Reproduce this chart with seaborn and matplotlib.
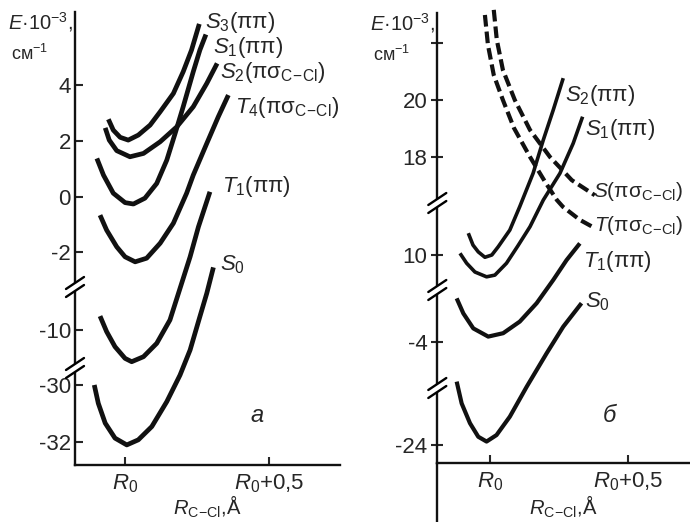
import numpy as np
import matplotlib
matplotlib.use("Agg")
import matplotlib.pyplot as plt
import matplotlib.transforms as mtransforms
import seaborn as sns

sns.set_style("white")
plt.rcParams['font.family'] = ['Liberation Sans', 'DejaVu Sans']
plt.rcParams['mathtext.fontset'] = 'custom'
plt.rcParams['mathtext.rm'] = 'Liberation Sans'
plt.rcParams['mathtext.it'] = 'Liberation Sans:italic'
plt.rcParams['mathtext.bf'] = 'Liberation Sans:bold'


# ---- Panel a: E*10^-3 (cm^-1) vs R(C-Cl) - R0 (Angstrom) ----
a_S3_x = [-0.058, -0.041, -0.017, 0.011, 0.046, 0.087, 0.122, 0.168, 0.202, 0.231, 0.258]
a_S3_E = [2.78, 2.39, 2.13, 2.03, 2.21, 2.57, 3.05, 3.71, 4.49, 5.27, 6.21]

a_S1_x = [-0.098, -0.075, -0.041, 0.0, 0.029, 0.069, 0.110, 0.145, 0.174, 0.202, 0.237, 0.260, 0.281]
a_S1_E = [1.37, 0.77, 0.12, -0.22, -0.27, -0.06, 0.47, 1.31, 2.27, 3.23, 4.49, 5.27, 5.83]

a_S2_x = [-0.069, -0.055, -0.029, 0.017, 0.064, 0.122, 0.180, 0.237, 0.284, 0.320]
a_S2_E = [2.47, 2.03, 1.65, 1.43, 1.55, 1.97, 2.51, 3.23, 4.07, 4.79]

a_T4_x = [-0.087, -0.064, -0.029, 0.0, 0.035, 0.075, 0.122, 0.168, 0.214, 0.237, 0.284, 0.324, 0.359]
a_T4_E = [-0.67, -1.21, -1.81, -2.17, -2.35, -2.22, -1.68, -0.96, 0.12, 0.77, 1.91, 2.87, 3.65]

a_T1_x = [-0.087, -0.064, -0.035, 0.0, 0.023, 0.064, 0.110, 0.156, 0.226, 0.255, 0.295]
a_T1_E = [-9.50, -10.06, -10.60, -11.02, -11.14, -10.96, -10.48, -9.64, -2.17, -1.09, 0.17]

a_S0_x = [-0.107, -0.093, -0.069, -0.035, 0.006, 0.046, 0.093, 0.145, 0.191, 0.226, 0.260, 0.284, 0.307]
a_S0_E = [-30.0, -30.65, -31.35, -31.88, -32.12, -31.94, -31.47, -30.59, -29.65, -10.72, -9.52, -8.68, -2.55]

a_ticks = [4, 2, 0, -2, -10, -30, -32]
a_ticklabels = ["4", "2", "0", "-2", "-10", "-30", "-32"]

# ---- Panel b ----
b_S_x = [0.014, 0.025, 0.047, 0.090, 0.145, 0.217, 0.296, 0.379]
b_S_E = [23.18, 22.12, 21.06, 20.0, 18.94, 17.99, 17.17, 16.64]

b_T_x = [-0.018, -0.007, 0.014, 0.047, 0.087, 0.145, 0.202, 0.242, 0.264, 0.325, 0.379]
b_T_E = [23.0, 21.94, 20.88, 20.0, 19.01, 17.99, 17.07, 16.47, 11.70, 11.24, 10.95]

b_S2_x = [-0.078, -0.061, -0.042, -0.018, 0.007, 0.030, 0.072, 0.108, 0.156, 0.193, 0.229, 0.265]
b_S2_E = [10.77, 10.35, 10.11, 9.92, 10.0, 10.29, 10.88, 11.71, 17.41, 18.59, 19.65, 20.77]

b_S1_x = [-0.108, -0.084, -0.054, -0.012, 0.018, 0.060, 0.101, 0.145, 0.193, 0.253, 0.301, 0.335]
b_S1_E = [10.06, 9.71, 9.40, 9.23, 9.29, 9.71, 10.32, 11.0, 16.47, 17.41, 18.47, 19.41]

b_T1_x = [-0.120, -0.096, -0.060, -0.006, 0.048, 0.108, 0.169, 0.229, 0.277, 0.325]
b_T1_E = [-2.47, -3.0, -3.53, -3.82, -3.70, -3.29, -2.64, 9.12, 9.82, 10.41]

b_S0_x = [-0.120, -0.102, -0.072, -0.042, -0.012, 0.024, 0.072, 0.133, 0.205, 0.265, 0.331]
b_S0_E = [-5.41, -22.53, -23.23, -23.71, -23.88, -23.65, -23.0, -5.59, -4.41, -3.47, -2.64]

b_ticks = [22, 20, 18, 10, -4, -24]
b_ticklabels = ["", "20", "18", "10", "-4", "-24"]

# broken axis: E value at each side of a break and the pixel row it sits on
a_knots_E = [-32.83, -29.435, -11.33, -8.49, -3.22, 6.65]
a_knots_px = [465, 369, 367, 288, 286, 11.7]
b_knots_E = [-24.65, -22.02, -5.60, -2.21, 8.80, 11.80, 16.40, 23.08]
b_knots_px = [463.3, 389, 387, 291, 289, 204, 202, 12.7]


def make_scale(e_knots, px_knots):
    e = np.array(e_knots, float)
    p = -np.array(px_knots, float)
    s0 = (p[1] - p[0]) / (e[1] - e[0])
    s1 = (p[-1] - p[-2]) / (e[-1] - e[-2])
    e = np.r_[e[0] - 1000, e, e[-1] + 1000]
    p = np.r_[p[0] - 1000 * s0, p, p[-1] + 1000 * s1]
    return (lambda v: np.interp(v, e, p)), (lambda v: np.interp(v, p, e))


def add_break(ax, e_lo, e_hi):
    x0 = ax.get_xlim()[0]
    px, py = ax.transData.transform((x0, (e_lo + e_hi) / 2))
    ident = mtransforms.IdentityTransform()
    ax.plot([px, px], [py - 4, py + 4], color="white", lw=4, transform=ident,
            clip_on=False, zorder=5, solid_capstyle="butt")
    for d in (-4, 4):
        ax.plot([px - 9, px + 9], [py + d - 6, py + d + 6], color="k", lw=1.7,
                transform=ident, clip_on=False, zorder=6)


def curve(ax, x, e, lw, dashed=False):
    sns.lineplot(x=x, y=e, ax=ax, color="#111111", lw=lw, sort=False, estimator=None,
                 solid_joinstyle="round", solid_capstyle="butt")
    line = ax.lines[-1]
    line.set_clip_on(False)
    if dashed:
        line.set_dashes([2.8, 1.2])


def label(ax, x, e, text, dx, dy, size=16):
    ax.annotate(text, xy=(x[-1], e[-1]), xytext=(dx, dy), textcoords="offset pixels",
                ha="left", va="center", fontsize=size)


fig = plt.figure(figsize=(6.9, 5.22), dpi=100)
ax_a = fig.add_axes([75 / 690, 57 / 522, 265 / 690, 453.3 / 522])
ax_b = fig.add_axes([437.3 / 690, 58.7 / 522, 252.7 / 690, 450.6 / 522])

# panel a curves
curve(ax_a, a_S3_x, a_S3_E, 3.4)
curve(ax_a, a_S1_x, a_S1_E, 3.4)
curve(ax_a, a_S2_x, a_S2_E, 3.4)
curve(ax_a, a_T4_x, a_T4_E, 3.4)
curve(ax_a, a_T1_x, a_T1_E, 3.4)
curve(ax_a, a_S0_x, a_S0_E, 3.4)

# panel b curves
curve(ax_b, b_S_x, b_S_E, 3.0, dashed=True)
curve(ax_b, b_T_x, b_T_E, 3.0, dashed=True)
curve(ax_b, b_S2_x, b_S2_E, 2.6)
curve(ax_b, b_S1_x, b_S1_E, 2.6)
curve(ax_b, b_T1_x, b_T1_E, 3.0)
curve(ax_b, b_S0_x, b_S0_E, 3.0)

for ax, kE, kpx, ticks, tlabels, xl, tickdir, ly in [
        (ax_a, a_knots_E, a_knots_px, a_ticks, a_ticklabels, (-0.174, 0.747), "in", -0.064),
        (ax_b, b_knots_E, b_knots_px, b_ticks, b_ticklabels, (-0.190, 0.723), "inout", -0.068)]:
    fwd, inv = make_scale(kE, kpx)
    ax.set_yscale("function", functions=(fwd, inv))
    ax.set_ylim(kE[0], kE[-1])
    ax.set_xlim(*xl)
    ax.set_yticks(ticks)
    ax.set_yticklabels(tlabels)
    ax.set_xticks([0, 0.5])
    ax.set_xticklabels([r"$R_0$", r"$R_0$+0,5"])
    ax.minorticks_off()
    ax.set_xlabel(r"$R_{\mathrm{C\!-\!Cl}}$,Å", fontsize=14.5)
    ax.xaxis.set_label_coords(0.5, ly)
    ax.set_ylabel("")
    ax.spines["top"].set_visible(False)
    ax.spines["right"].set_visible(False)
    for s in ("left", "bottom"):
        ax.spines[s].set_linewidth(1.7)
        ax.spines[s].set_color("#111111")
    ax.tick_params(axis="y", direction=tickdir, length=8 if tickdir == "inout" else 6,
                   width=1.5, pad=3, labelsize=16, left=True)
    ax.tick_params(axis="x", direction="in", length=6, width=1.5, pad=5,
                   labelsize=16, bottom=True)
    ax.set_facecolor("none")
    for i in range(1, len(kE) - 1, 2):
        add_break(ax, kE[i], kE[i + 1])
    ax.annotate(r"$E$·10$^{-3}$,", xy=(0, 1), xycoords="axes fraction", xytext=(-2, -10),
                textcoords="offset pixels", ha="right", va="center", fontsize=14.5)
    ax.annotate("см$^{-1}$", xy=(0, 1), xycoords="axes fraction", xytext=(-64, -42),
                textcoords="offset pixels", ha="left", va="center", fontsize=13)

# extension of the b axis line below the frame
ax_b.plot([0, 0], [0, -0.14], transform=ax_b.transAxes, color="#111111", lw=1.7, clip_on=False)

label(ax_a, a_S3_x, a_S3_E, r"$S_3$(ππ)", 6, 1)
label(ax_a, a_S1_x, a_S1_E, r"$S_1$(ππ)", 7, -13)
label(ax_a, a_S2_x, a_S2_E, r"$S_2$(πσ$_{\mathrm{C\!-\!Cl}}$)", 3, -9)
label(ax_a, a_T4_x, a_T4_E, r"$T_4$(πσ$_{\mathrm{C\!-\!Cl}}$)", 7, -12)
label(ax_a, a_T1_x, a_T1_E, r"$T_1$(ππ)", 12, 5)
label(ax_a, a_S0_x, a_S0_E, r"$S_0$", 7, 3)

label(ax_b, b_S2_x, b_S2_E, r"$S_2$(ππ)", 2, -17)
label(ax_b, b_S1_x, b_S1_E, r"$S_1$(ππ)", 2, -13)
label(ax_b, b_S_x, b_S_E, r"$S$(πσ$_{\mathrm{C\!-\!Cl}}$)", -2, 4, size=15)
label(ax_b, b_T_x, b_T_E, r"$T$(πσ$_{\mathrm{C\!-\!Cl}}$)", -1, 3, size=15)
label(ax_b, b_T1_x, b_T1_E, r"$T_1$(ππ)", 3, -18)
label(ax_b, b_S0_x, b_S0_E, r"$S_0$", 3, 1)

ax_a.text(0.687, 0.110, "а", transform=ax_a.transAxes, fontsize=17, style="italic",
          ha="center", va="center")
ax_b.text(0.683, 0.107, "б", transform=ax_b.transAxes, fontsize=17, style="italic",
          ha="center", va="center")

fig.savefig("out.png", dpi=100)
